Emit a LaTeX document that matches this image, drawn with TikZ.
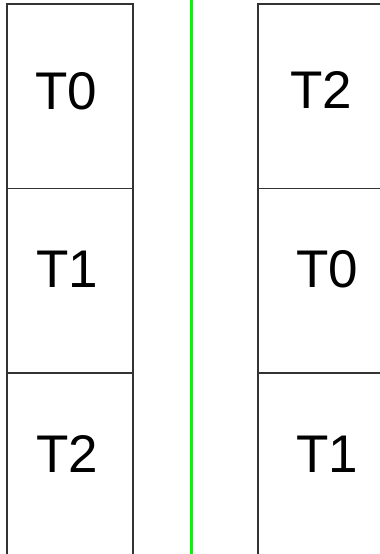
\documentclass[tikz,border=0pt]{standalone}
\usepackage{fontspec}
\setmainfont{Liberation Sans}
\definecolor{sepgreen}{RGB}{0,250,0}
\begin{document}
\begin{tikzpicture}[x=1pt, y=-1pt,
    slot/.style={draw=black!80, line width=1.8pt, minimum width=125.7pt,
      minimum height=184.5pt, inner sep=0pt, outer sep=0pt},
    tname/.style={font=\fontsize{53}{60}\selectfont, inner sep=0pt}]
    \useasboundingbox (0,0) rectangle (380,554);
    \clip (0,0) rectangle (380,554);
    % left queue
    \foreach \t/\tx/\ty [count=\i from 0] in {T0/66/91, T1/67/269, T2/67/454}{
      \node[slot] (l\i) at (69.85, 96.3+184.5*\i) {};
      \node[tname] (lt\i) at (\tx,\ty) {\t};
    }
    % right queue
    \foreach \t/\tx/\ty [count=\i from 0] in {T2/321/90, T0/327/269, T1/327/454}{
      \node[slot] (r\i) at (321.15, 96.3+184.5*\i) {};
      \node[tname] (rt\i) at (\tx,\ty) {\t};
    }
    % separator
    \coordinate (sepTop) at (191.5,0);
    \coordinate (sepBot) at (191.5,554);
    \draw[line width=2.5pt, draw=sepgreen] (sepTop) -- (sepBot);
  \end{tikzpicture}
\end{document}
